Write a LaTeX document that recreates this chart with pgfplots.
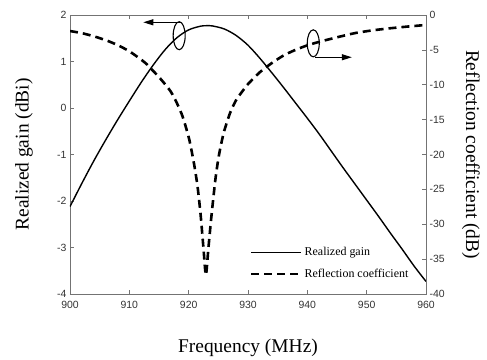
\documentclass[border=0pt]{standalone}
\usepackage{fontspec}
\setmainfont{Liberation Serif}
\newfontfamily\arial{Liberation Sans}
\usepackage{pgfplots}
\usepackage{pgfplotstable}
\pgfplotsset{compat=1.18}
\usetikzlibrary{arrows.meta}

\pgfplotstableread{
f g
900 -2.12
902 -1.62
904 -1.14
906 -0.69
908 -0.26
910 0.15
912 0.55
914 0.92
916 1.25
918 1.51
920 1.68
922 1.76
923 1.77
924 1.765
926 1.70
928 1.56
930 1.35
932 1.07
934 0.76
936 0.44
938 0.11
940 -0.22
942 -0.56
944 -0.92
946 -1.28
948 -1.63
950 -1.98
952 -2.33
954 -2.69
956 -3.04
958 -3.40
960 -3.73
}\gaintable

\pgfplotstableread{
f r
900 -2.3
902 -2.6
904 -3.05
906 -3.6
908 -4.3
910 -5.2
912 -6.4
913 -7.1
914 -8.0
915 -8.9
916 -9.9
917 -11.0
918 -12.6
919 -14.6
920 -17.5
920.5 -19.5
921 -21.8
921.5 -24.6
922 -28.5
922.5 -33.5
922.9 -37.3
923.3 -33.7
923.7 -30.0
924 -27.5
924.5 -23.6
925 -20.6
925.5 -18.4
926 -16.6
927 -14.0
928 -12.2
929 -11.0
930 -9.9
932 -8.2
934 -6.9
936 -5.8
938 -5.0
940 -4.35
942 -3.85
945 -3.2
948 -2.6
951 -2.2
954 -1.9
957 -1.65
960 -1.43
}\refltable

\begin{document}
\begin{tikzpicture}
\useasboundingbox (-70bp,-66bp) rectangle (417bp,294bp);
\begin{axis}[
  scale only axis, width=356bp, height=279bp,
  at={(0,0)}, anchor=south west,
  xmin=900, xmax=960, ymin=-4, ymax=2,
  xtick={900,910,...,960}, ytick={-4,-3,...,2},
  xtick pos=both, ytick pos=left,
  tick align=inside,
  major tick length=4bp,
  axis line style={black!55, line width=0.7bp},
  every tick/.style={black!55, line width=0.6bp},
  ticklabel style={font=\arial\fontsize{10.5}{12}\selectfont, text=black!80},
  xticklabel style={yshift=-4bp},
  /pgf/number format/assume math mode=true,
  xlabel={Frequency (MHz)},
  ylabel={Realized gain (dBi)},
  label style={font=\fontsize{19.5}{22}\selectfont},
  xlabel style={at={(axis description cs:0.5,-0.1935)}, anchor=center},
  ylabel style={at={(axis description cs:-0.129,0.5)}, anchor=center},
]
\addplot[black, line width=1.4bp, smooth, tension=0.5] table[x=f, y=g] {\gaintable};
\draw[black, line width=1.1bp] (axis cs:918.4,1.555) ellipse [x radius=6bp, y radius=14bp];
\draw[black, line width=1.1bp, -{Triangle[length=10bp,width=6bp]}] (axis cs:918.6,1.843) -- (axis cs:912.35,1.843);
\end{axis}
\begin{axis}[
  scale only axis, width=356bp, height=279bp,
  at={(0,0)}, anchor=south west,
  xmin=900, xmax=960, ymin=-40, ymax=0,
  hide x axis,
  axis y line*=right,
  ytick={-40,-35,...,0},
  tick align=inside,
  major tick length=4bp,
  axis line style={-, black!55, line width=0.7bp},
  every tick/.style={black!55, line width=0.6bp},
  ticklabel style={font=\arial\fontsize{10.5}{12}\selectfont, text=black!80},
  /pgf/number format/assume math mode=true,
  ylabel={Reflection coefficient (dB)},
  label style={font=\fontsize{19.5}{22}\selectfont},
  ylabel style={at={(axis description cs:1.126,0.5)}, anchor=center, rotate=180},
  legend style={draw=none, fill=none, at={(rel axis cs:0.497,0.182)}, anchor=north west,
    font=\fontsize{12}{14}\selectfont, row sep=8bp},
  legend cell align=left,
  legend image code/.code={\draw[#1] (0bp,0bp) -- (50bp,0bp);},
]
\addlegendimage{black, line width=1.4bp}
\addlegendentry{Realized gain}
\addplot[black, line width=2.6bp, dash pattern=on 8bp off 5bp, smooth, tension=0.4] table[x=f, y=r] {\refltable};
\addlegendentry{Reflection coefficient}
\draw[black, line width=1.1bp] (axis cs:941.0,-4.06) ellipse [x radius=6bp, y radius=13.5bp];
\draw[black, line width=1.1bp, -{Triangle[length=10bp,width=6bp]}] (axis cs:941.3,-6.06) -- (axis cs:947.5,-6.06);
\end{axis}
\end{tikzpicture}
\end{document}
